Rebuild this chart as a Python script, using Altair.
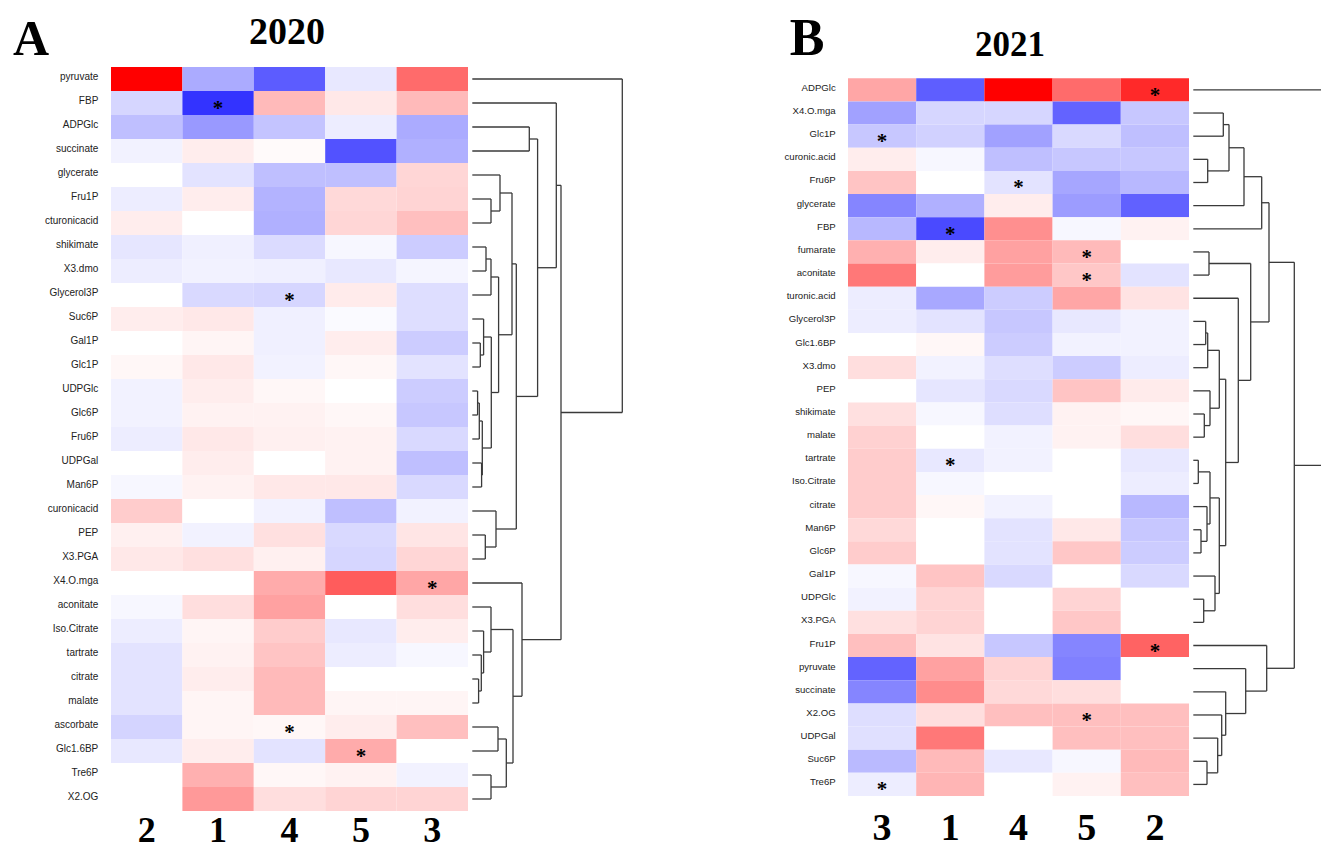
import altair as alt
import pandas as pd

# ---------------- Panel A (2020) ----------------
rows_A = ["pyruvate", "FBP", "ADPGlc", "succinate", "glycerate", "Fru1P", "cturonicacid",
          "shikimate", "X3.dmo", "Glycerol3P", "Suc6P", "Gal1P", "Glc1P", "UDPGlc", "Glc6P",
          "Fru6P", "UDPGal", "Man6P", "curonicacid", "PEP", "X3.PGA", "X4.O.mga", "aconitate",
          "Iso.Citrate", "tartrate", "citrate", "malate", "ascorbate", "Glc1.6BP", "Tre6P", "X2.OG"]
cols_A = ["2", "1", "4", "5", "3"]
A_col2 = [1.0, -0.16, -0.25, -0.05, 0, -0.07, 0.07, -0.1, -0.07, 0, 0.07, 0, 0.03, -0.05, -0.05,
          -0.07, 0, -0.03, 0.2, 0.06, 0.09, 0, -0.03, -0.07, -0.11, -0.11, -0.11, -0.17, -0.09, 0, 0]
A_col1 = [-0.33, -0.8, -0.4, 0.07, -0.11, 0.07, 0, -0.06, -0.05, -0.15, 0.09, 0.04, 0.09, 0.07, 0.05,
          0.09, 0.07, 0.05, 0, -0.05, 0.12, 0, 0.13, 0.04, 0.05, 0.07, 0.04, 0.04, 0.07, 0.31, 0.4]
A_col4 = [-0.64, 0.27, -0.23, 0.02, -0.25, -0.3, -0.31, -0.14, -0.06, -0.16, -0.06, -0.06, -0.05, 0.03, 0.05,
          0.06, 0, 0.09, -0.05, 0.12, 0.06, 0.33, 0.37, 0.2, 0.23, 0.27, 0.27, 0.03, -0.11, 0.03, 0.13]
A_col5 = [-0.09, 0.09, -0.07, -0.68, -0.25, 0.15, 0.16, -0.03, -0.09, 0.08, -0.02, 0.07, 0.03, 0, 0.03,
          0.05, 0.05, 0.09, -0.25, -0.15, -0.16, 0.64, 0, -0.09, -0.07, 0, 0.04, 0.07, 0.33, 0.05, 0.17]
A_col3 = [0.58, 0.27, -0.33, -0.31, 0.16, 0.17, 0.25, -0.2, -0.04, -0.13, -0.13, -0.2, -0.11, -0.2, -0.22,
          -0.15, -0.25, -0.15, -0.05, 0.1, 0.16, 0.35, 0.13, 0.07, -0.03, 0, 0.04, 0.25, 0, -0.05, 0.17]
stars_A_row = ["FBP", "Glycerol3P", "X4.O.mga", "ascorbate", "Glc1.6BP"]
stars_A_col = ["1", "4", "3", "4", "5"]
# dendrogram merges: (left, right, height); "mK" refers to the K-th merge
dend_A_left = ["ADPGlc", "Fru1P", "glycerate", "shikimate", "m3", "Gal1P", "Suc6P", "UDPGlc", "m7",
               "UDPGal", "m8", "m6", "m4", "m2", "PEP", "curonicacid", "m13", "m0", "FBP", "citrate",
               "tartrate", "Iso.Citrate", "aconitate", "ascorbate", "Tre6P", "m23", "m22", "X4.O.mga",
               "m18", "pyruvate"]
dend_A_right = ["succinate", "cturonicacid", "m1", "X3.dmo", "Glycerol3P", "Glc1P", "m5", "Glc6P", "Fru6P",
                "Man6P", "m9", "m10", "m11", "m12", "X3.PGA", "m14", "m15", "m16", "m17", "malate",
                "m19", "m20", "m21", "Glc1.6BP", "X2.OG", "m24", "m25", "m26", "m27", "m28"]
dend_A_height = [57, 18.7, 27.7, 13.7, 18.7, 8, 11.3, 5.3, 7, 9.3, 10, 19, 26.3, 39.7, 13, 23.7, 44,
                 65.3, 84, 6.3, 9, 11.3, 18.7, 25.7, 18.7, 34, 40.7, 49.7, 88.7, 150]

# ---------------- Panel B (2021) ----------------
rows_B = ["ADPGlc", "X4.O.mga", "Glc1P", "curonic.acid", "Fru6P", "glycerate", "FBP", "fumarate",
          "aconitate", "turonic.acid", "Glycerol3P", "Glc1.6BP", "X3.dmo", "PEP", "shikimate", "malate",
          "tartrate", "Iso.Citrate", "citrate", "Man6P", "Glc6P", "Gal1P", "UDPGlc", "X3.PGA", "Fru1P",
          "pyruvate", "succinate", "X2.OG", "UDPGal", "Suc6P", "Tre6P"]
cols_B = ["3", "1", "4", "5", "2"]
B_col3 = [0.35, -0.37, -0.22, 0.07, 0.23, -0.48, -0.28, 0.31, 0.53, -0.07, -0.07, 0, 0.13, 0, 0.12, 0.18,
          0.2, 0.2, 0.2, 0.15, 0.2, -0.03, -0.05, 0.12, 0.25, -0.61, -0.48, -0.13, -0.12, -0.27, -0.07]
B_col1 = [-0.63, -0.16, -0.18, -0.03, 0, -0.31, -0.71, 0.07, 0, -0.34, -0.11, 0.03, -0.05, -0.1, -0.03, 0,
          -0.09, -0.03, 0.03, 0, 0, 0.23, 0.17, 0.17, 0.11, 0.37, 0.45, 0.13, 0.53, 0.27, 0.29]
B_col4 = [1.0, -0.16, -0.37, -0.25, -0.11, 0.07, 0.44, 0.37, 0.39, -0.2, -0.22, -0.2, -0.13, -0.15, -0.13,
          -0.05, -0.05, 0, -0.05, -0.11, -0.11, -0.15, 0, 0, -0.22, 0.17, 0.15, 0.25, 0, -0.09, 0]
B_col5 = [0.58, -0.61, -0.15, -0.22, -0.35, -0.39, -0.03, 0.27, 0.22, 0.35, -0.09, -0.05, -0.2, 0.23, 0.05,
          0.05, 0, 0, 0, 0.09, 0.22, 0, 0.17, 0.22, -0.48, -0.5, 0.13, 0.25, 0.25, -0.03, 0.05]
B_col2 = [0.84, -0.22, -0.25, -0.22, -0.28, -0.62, 0.05, 0, -0.11, 0.11, -0.05, -0.05, -0.07, 0.08, 0.03,
          0.13, -0.09, -0.07, -0.28, -0.22, -0.2, -0.15, 0, 0, 0.61, 0, 0, 0.25, 0.25, 0.27, 0.25]
stars_B_row = ["ADPGlc", "Glc1P", "Fru6P", "FBP", "fumarate", "aconitate", "tartrate", "Fru1P", "X2.OG", "Tre6P"]
stars_B_col = ["2", "3", "4", "1", "5", "5", "1", "2", "5", "3"]
dend_B_left = ["X4.O.mga", "curonic.acid", "m0", "m2", "m3", "fumarate", "Glycerol3P", "m6", "shikimate",
               "PEP", "m7", "tartrate", "Man6P", "citrate", "m11", "UDPGlc", "Gal1P", "m14", "m10",
               "turonic.acid", "m5", "m4", "Suc6P", "UDPGal", "X2.OG", "succinate", "pyruvate", "Fru1P",
               "m21", "ADPGlc"]
dend_B_right = ["Glc1P", "Fru6P", "m1", "glycerate", "FBP", "aconitate", "Glc1.6BP", "X3.dmo", "malate",
                "m8", "m9", "Iso.Citrate", "Glc6P", "m12", "m13", "X3.PGA", "m15", "m16", "m17",
                "m18", "m19", "m20", "Tre6P", "m22", "m23", "m24", "m25", "m26", "m27", "m28"]
dend_B_height = [30, 14.4, 35.7, 50.7, 68.4, 15.7, 12.4, 14.4, 11, 16.7, 26, 5, 7.7, 13.7, 16.7, 10.4,
                 21.7, 26, 32.4, 45, 57.4, 75.7, 13.7, 24.4, 28.4, 32.4, 52.4, 73.4, 101, 160]


def heat_frame(rows, cols, columns):
    recs = []
    for c, vals in zip(cols, columns):
        for i, (r, v) in enumerate(zip(rows, vals)):
            recs.append({"row": r, "col": c, "r0": i, "r1": i + 1, "value": v})
    return pd.DataFrame(recs)


def dendro_frame(leaves, lefts, rights, heights):
    pos = {n: (i + 0.5, 0.0) for i, n in enumerate(leaves)}
    segs = []
    for k, (a, b, h) in enumerate(zip(lefts, rights, heights)):
        ya, ha = pos[a]
        yb, hb = pos[b]
        segs.append({"x": ha, "x2": h, "y": ya, "y2": ya})
        segs.append({"x": hb, "x2": h, "y": yb, "y2": yb})
        segs.append({"x": h, "x2": h, "y": ya, "y2": yb})
        pos[f"m{k}"] = ((ya + yb) / 2, h)
    return pd.DataFrame(segs)


color_scale = alt.Scale(domain=[-1, 0, 1], range=["#0000ff", "#ffffff", "#ff0000"], interpolate="rgb")


def panel(rows, cols, columns, star_rows, star_cols, lefts, rights, heights,
          heat_x, heat_y, dend_x, label_x, lab_size, col_y, col_size):
    n = len(rows)
    yscale = alt.Scale(domain=[0, n], range=heat_y, nice=False, zero=False)
    xscale = alt.Scale(domain=cols, range=heat_x, paddingInner=0, paddingOuter=0)
    hf = heat_frame(rows, cols, columns)
    heat = alt.Chart(hf).mark_rect(stroke=None).encode(
        x=alt.X("col:N", scale=xscale, axis=None),
        y=alt.Y("r0:Q", scale=yscale, axis=None),
        y2="r1:Q",
        color=alt.Color("value:Q", scale=color_scale, legend=None),
    )
    idx = {r: i for i, r in enumerate(rows)}
    sf = pd.DataFrame({"col": star_cols, "yc": [idx[r] + 0.5 for r in star_rows]})
    stars = alt.Chart(sf).mark_text(text="*", font="Liberation Serif", fontSize=21, fontWeight="bold",
                                    color="black", baseline="middle", dy=6).encode(
        x=alt.X("col:N", scale=xscale, axis=None),
        y=alt.Y("yc:Q", scale=yscale, axis=None),
    )
    lf = pd.DataFrame({"name": rows, "yc": [i + 0.5 for i in range(n)]})
    labels = alt.Chart(lf).mark_text(font="Liberation Sans", fontSize=lab_size, align="right",
                                     baseline="middle", color="#222222", dy=-2).encode(
        x=alt.value(label_x),
        y=alt.Y("yc:Q", scale=yscale, axis=None),
        text="name:N",
    )
    cf = pd.DataFrame({"col": cols})
    collab = alt.Chart(cf).mark_text(font="Liberation Serif", fontSize=col_size, fontWeight="bold",
                                     baseline="alphabetic", color="black").encode(
        x=alt.X("col:N", scale=xscale, axis=None),
        y=alt.value(col_y),
        text="col:N",
    )
    df = dendro_frame(rows, lefts, rights, heights)
    dend = alt.Chart(df).mark_rule(color="#3a3a3a", strokeWidth=1.3).encode(
        x=alt.X("x:Q", scale=alt.Scale(domain=[0, 150], range=dend_x, nice=False, zero=False), axis=None),
        x2="x2:Q",
        y=alt.Y("y:Q", scale=yscale, axis=None),
        y2="y2:Q",
    )
    return [heat, stars, labels, collab, dend]


def title_text(txt, x, y, size):
    return alt.Chart(pd.DataFrame({"t": [txt]})).mark_text(
        font="Liberation Serif", fontSize=size, fontWeight="bold", align="center",
        baseline="alphabetic", color="black").encode(x=alt.value(x), y=alt.value(y), text="t:N")


layers = []
layers += panel(rows_A, cols_A, [A_col2, A_col1, A_col4, A_col5, A_col3], stars_A_row, stars_A_col,
                dend_A_left, dend_A_right, dend_A_height,
                heat_x=[103, 460], heat_y=[59, 803], dend_x=[464.3, 614.3],
                label_x=90.3, lab_size=10, col_y=834, col_size=36)
layers += panel(rows_B, cols_B, [B_col3, B_col1, B_col4, B_col5, B_col2], stars_B_row, stars_B_col,
                dend_B_left, dend_B_right, dend_B_height,
                heat_x=[840, 1181], heat_y=[70.3, 788], dend_x=[1185.3, 1335.3],
                label_x=827.7, lab_size=9.6, col_y=832, col_size=38)
layers += [
    title_text("A", 23, 47, 50),
    title_text("2020", 279, 36, 38),
    title_text("B", 799, 47, 52),
    title_text("2021", 1002, 48, 35),
]

chart = alt.layer(*layers).resolve_scale(
    x="independent", y="independent", color="independent"
).properties(
    width=1313, height=841, padding=0,
    autosize=alt.AutoSizeParams(type="none"),
).configure_view(strokeWidth=0)

chart.save("out.html", embed_options={"renderer": "svg", "actions": False})
